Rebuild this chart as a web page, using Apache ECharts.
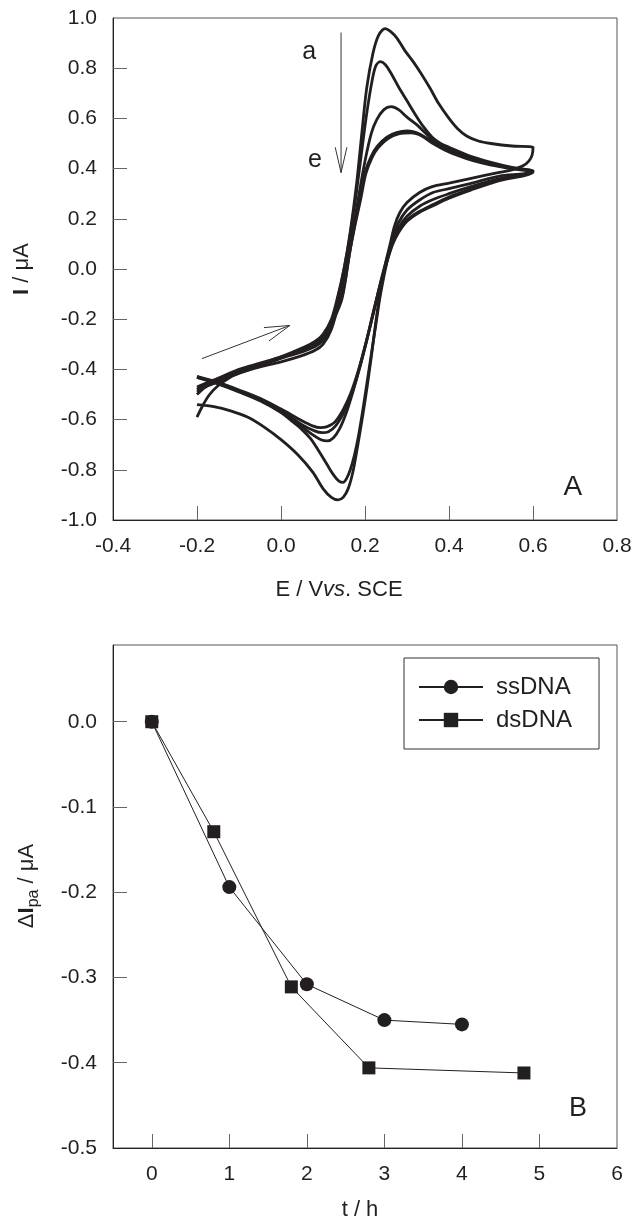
<!DOCTYPE html>
<html>
<head>
<meta charset="utf-8">
<script src="https://cdn.jsdelivr.net/npm/echarts@6/dist/echarts.min.js"></script>
<style>
  html, body { margin: 0; padding: 0; background: #fff; }
  #chart { width: 635px; height: 1221px; }
</style>
</head>
<body>
<div id="chart"></div>
<script>
// Panel A: cyclic voltammograms a–e, each [E (V vs SCE), I (µA)], forward scan then reverse
const cvA = [
  [-0.2,-0.59],[-0.185,-0.54],[-0.17,-0.5],[-0.15,-0.465],[-0.12,-0.43],[-0.1,-0.415],[-0.05,-0.385],
  [0.0,-0.355],[0.05,-0.32],[0.08,-0.295],[0.1,-0.27],[0.12,-0.215],[0.135,-0.12],[0.15,0.0],
  [0.165,0.15],[0.18,0.34],[0.193,0.55],[0.204,0.72],[0.219,0.86],[0.232,0.93],[0.248,0.958],
  [0.262,0.945],[0.276,0.92],[0.295,0.87],[0.315,0.825],[0.335,0.775],[0.355,0.72],[0.375,0.66],
  [0.4,0.6],[0.42,0.56],[0.442,0.53],[0.47,0.51],[0.5,0.5],[0.55,0.49],[0.6,0.485],
  [0.598,0.455],[0.59,0.43],[0.575,0.41],[0.55,0.395],[0.52,0.385],[0.45,0.36],[0.4,0.342],
  [0.36,0.328],[0.33,0.305],[0.3,0.265],[0.283,0.225],[0.27,0.17],[0.26,0.1],[0.25,0.03],
  [0.242,-0.04],[0.235,-0.1],[0.225,-0.22],[0.215,-0.35],[0.205,-0.47],[0.195,-0.58],[0.183,-0.7],
  [0.171,-0.81],[0.16,-0.875],[0.148,-0.91],[0.136,-0.92],[0.12,-0.91],[0.1,-0.875],[0.076,-0.81],
  [0.04,-0.74],[0.0,-0.68],[-0.04,-0.63],[-0.08,-0.59],[-0.12,-0.565],[-0.16,-0.548],[-0.2,-0.54]
];
const cvB = [
  [-0.2,-0.5],[-0.18,-0.47],[-0.15,-0.445],[-0.1,-0.41],[-0.05,-0.38],[0.0,-0.35],[0.05,-0.315],
  [0.08,-0.29],[0.1,-0.26],[0.12,-0.2],[0.135,-0.11],[0.15,0.0],[0.165,0.14],[0.18,0.31],
  [0.193,0.48],[0.205,0.63],[0.218,0.76],[0.226,0.81],[0.236,0.826],[0.248,0.815],[0.262,0.78],
  [0.28,0.725],[0.3,0.67],[0.32,0.615],[0.34,0.565],[0.36,0.525],[0.38,0.5],[0.4,0.485],
  [0.45,0.45],[0.5,0.425],[0.55,0.405],[0.6,0.39],
  [0.58,0.38],[0.52,0.37],[0.45,0.34],[0.4,0.32],[0.362,0.305],[0.33,0.275],[0.3,0.235],
  [0.28,0.185],[0.265,0.12],[0.255,0.05],[0.245,-0.03],[0.236,-0.11],[0.226,-0.22],[0.215,-0.34],
  [0.205,-0.45],[0.195,-0.56],[0.185,-0.66],[0.175,-0.74],[0.165,-0.8],[0.156,-0.835],[0.148,-0.85],
  [0.138,-0.845],[0.125,-0.82],[0.11,-0.78],[0.09,-0.725],[0.07,-0.675],[0.05,-0.64],[0.025,-0.605],
  [0.0,-0.572],[-0.05,-0.525],[-0.1,-0.49],[-0.15,-0.458],[-0.2,-0.432]
];
const cvC = [
  [-0.2,-0.49],[-0.18,-0.47],[-0.15,-0.45],[-0.1,-0.415],[-0.05,-0.39],[0.0,-0.37],[0.05,-0.345],
  [0.08,-0.325],[0.1,-0.3],[0.12,-0.24],[0.14,-0.12],[0.155,0.0],[0.17,0.14],[0.185,0.29],
  [0.2,0.43],[0.215,0.54],[0.228,0.595],[0.245,0.635],[0.262,0.647],[0.28,0.635],[0.3,0.605],
  [0.323,0.575],[0.345,0.54],[0.365,0.51],[0.4,0.478],[0.45,0.446],[0.5,0.42],[0.55,0.402],[0.6,0.39],
  [0.58,0.378],[0.52,0.36],[0.45,0.327],[0.4,0.3],[0.362,0.277],[0.33,0.25],[0.3,0.21],
  [0.28,0.165],[0.265,0.11],[0.25,0.03],[0.236,-0.06],[0.222,-0.16],[0.205,-0.28],[0.188,-0.39],
  [0.171,-0.49],[0.155,-0.575],[0.14,-0.635],[0.125,-0.672],[0.11,-0.685],[0.095,-0.68],[0.075,-0.66],
  [0.05,-0.628],[0.0,-0.568],[-0.05,-0.522],[-0.1,-0.488],[-0.15,-0.456],[-0.2,-0.432]
];
const cvD = [
  [-0.2,-0.48],[-0.18,-0.46],[-0.15,-0.44],[-0.1,-0.405],[-0.05,-0.38],[0.0,-0.355],[0.05,-0.33],
  [0.08,-0.31],[0.1,-0.285],[0.12,-0.22],[0.145,-0.12],[0.164,0.07],[0.176,0.18],[0.188,0.28],
  [0.2,0.385],[0.215,0.45],[0.23,0.49],[0.252,0.525],[0.275,0.543],[0.3,0.55],[0.33,0.538],
  [0.362,0.505],[0.4,0.47],[0.442,0.445],[0.48,0.425],[0.52,0.412],[0.56,0.4],[0.6,0.388],
  [0.58,0.375],[0.52,0.355],[0.45,0.317],[0.4,0.287],[0.362,0.257],[0.33,0.23],[0.3,0.195],
  [0.28,0.15],[0.265,0.1],[0.25,0.02],[0.235,-0.07],[0.22,-0.17],[0.203,-0.29],[0.185,-0.405],
  [0.168,-0.5],[0.15,-0.57],[0.13,-0.625],[0.113,-0.648],[0.098,-0.652],[0.08,-0.645],[0.05,-0.62],
  [0.0,-0.565],[-0.05,-0.52],[-0.1,-0.486],[-0.15,-0.455],[-0.2,-0.43]
];
const cvE = [
  [-0.2,-0.47],[-0.18,-0.455],[-0.15,-0.435],[-0.1,-0.4],[-0.05,-0.375],[0.0,-0.35],[0.05,-0.325],
  [0.08,-0.305],[0.1,-0.28],[0.12,-0.215],[0.145,-0.11],[0.164,0.07],[0.177,0.18],[0.19,0.28],
  [0.202,0.38],[0.217,0.445],[0.232,0.485],[0.255,0.52],[0.28,0.538],[0.31,0.542],[0.335,0.53],
  [0.362,0.5],[0.4,0.466],[0.442,0.44],[0.48,0.422],[0.52,0.408],[0.56,0.397],[0.6,0.385],
  [0.58,0.372],[0.52,0.352],[0.45,0.313],[0.4,0.282],[0.362,0.252],[0.33,0.226],[0.3,0.19],
  [0.28,0.145],[0.265,0.095],[0.25,0.015],[0.235,-0.075],[0.22,-0.175],[0.202,-0.295],[0.184,-0.405],
  [0.166,-0.495],[0.148,-0.56],[0.128,-0.61],[0.11,-0.628],[0.093,-0.632],[0.075,-0.625],[0.05,-0.605],
  [0.0,-0.558],[-0.05,-0.515],[-0.1,-0.482],[-0.15,-0.452],[-0.2,-0.428]
];
const cvCurves = [cvA, cvB, cvC, cvD, cvE];

// Panel B: change of anodic peak current vs time
const tSs = [0, 1, 2, 3, 4];
const ssDNA = [0, -0.194, -0.308, -0.350, -0.355];
const tDs = [0, 0.8, 1.8, 2.8, 4.8];
const dsDNA = [0, -0.129, -0.311, -0.406, -0.412];

// Tick / label values
const xTicksA = [-0.2, 0, 0.2, 0.4, 0.6];
const xLabelsA = [-0.4, -0.2, 0, 0.2, 0.4, 0.6, 0.8];
const yTicksA = [-0.8, -0.6, -0.4, -0.2, 0, 0.2, 0.4, 0.6, 0.8];
const yLabelsA = [-1, -0.8, -0.6, -0.4, -0.2, 0, 0.2, 0.4, 0.6, 0.8, 1];
const xTicksB = [0, 1, 2, 3, 4, 5];
const xLabelsB = [0, 1, 2, 3, 4, 5, 6];
const yTicksB = [-0.4, -0.3, -0.2, -0.1, 0];
const yLabelsB = [-0.5, -0.4, -0.3, -0.2, -0.1, 0];

// Annotations in data coordinates
const arrowDown = [[0.143, 0.942], [0.143, 0.384]];
const arrowScan = [[-0.188, -0.357], [0.021, -0.225]];
const curveTags = [['a', 0.067, 0.866], ['e', 0.081, 0.432]];

const FONT = '"Liberation Sans", Arial, Helvetica, sans-serif';
const INK = '#231f20';

const chart = echarts.init(document.getElementById('chart'));

function xAxisOf(grid, min, max, ticks, labels, fmt) {
  return {
    type: 'value', gridIndex: grid, min, max,
    axisLine: { show: true, onZero: false, lineStyle: { color: '#222', width: 1 } },
    axisTick: { show: true, inside: true, length: 14, customValues: ticks, lineStyle: { color: '#666' } },
    axisLabel: { customValues: labels, formatter: fmt, margin: 16, fontSize: 21, color: INK, fontFamily: FONT },
    splitLine: { show: false }
  };
}
function yAxisOf(grid, min, max, ticks, labels, fmt) {
  return {
    type: 'value', gridIndex: grid, min, max,
    axisLine: { show: true, onZero: false, lineStyle: { color: '#222', width: 1 } },
    axisTick: { show: true, inside: true, length: 14, customValues: ticks, lineStyle: { color: '#666' } },
    axisLabel: { customValues: labels, formatter: fmt, margin: 16, fontSize: 21, color: INK, fontFamily: FONT },
    splitLine: { show: false }
  };
}
const f1 = (v) => v.toFixed(1);

const cvSeries = cvCurves.map((d, i) => ({
  type: 'line', name: 'cv' + i, xAxisIndex: 0, yAxisIndex: 0,
  data: d, showSymbol: false, smooth: 0.3,
  lineStyle: { color: INK, width: 2.8 }
}));

chart.setOption({
  animation: false,
  grid: [
    { left: 113, top: 18, width: 504, height: 502, show: true, borderColor: '#555', borderWidth: 1 },
    { left: 113, top: 645, width: 504, height: 503, show: true, borderColor: '#555', borderWidth: 1 }
  ],
  xAxis: [
    xAxisOf(0, -0.4, 0.8, xTicksA, xLabelsA, f1),
    xAxisOf(1, -0.5, 6, xTicksB, xLabelsB, (v) => String(v))
  ],
  yAxis: [
    yAxisOf(0, -1, 1, yTicksA, yLabelsA, f1),
    yAxisOf(1, -0.5, 0.09, yTicksB, yLabelsB, f1)
  ],
  legend: {
    data: ['ssDNA', 'dsDNA'], orient: 'vertical', left: 404, top: 658,
    borderColor: '#333', borderWidth: 1, padding: [17, 27, 17, 14],
    itemWidth: 64, itemHeight: 18, itemGap: 9,
    textStyle: { fontSize: 24, color: INK, fontFamily: FONT, padding: [0, 0, 0, 8] }
  },
  series: [
    ...cvSeries,
    {
      type: 'line', name: 'dsDNA', xAxisIndex: 1, yAxisIndex: 1, z: 2,
      data: tDs.map((t, i) => [t, dsDNA[i]]),
      symbol: 'rect', symbolSize: 13,
      lineStyle: { color: INK, width: 1 }, itemStyle: { color: INK }
    },
    {
      type: 'line', name: 'ssDNA', xAxisIndex: 1, yAxisIndex: 1, z: 3,
      data: tSs.map((t, i) => [t, ssDNA[i]]),
      symbol: 'circle', symbolSize: 14,
      lineStyle: { color: INK, width: 1 }, itemStyle: { color: INK }
    }
  ]
});

// ── Annotations: arrows, curve tags, panel letters, axis titles ──
const px = (g, p) => chart.convertToPixel({ gridIndex: g }, p);

function arrow(g, from, to, len, deg) {
  const a = px(g, from), b = px(g, to);
  const dx = a[0] - b[0], dy = a[1] - b[1], d = Math.hypot(dx, dy);
  const ux = dx / d, uy = dy / d, r = deg * Math.PI / 180;
  const arm = (s) => [b[0] + len * (ux * Math.cos(s * r) - uy * Math.sin(s * r)),
                      b[1] + len * (ux * Math.sin(s * r) + uy * Math.cos(s * r))];
  const st = { stroke: '#333', lineWidth: 1, fill: null };
  return [
    { type: 'line', shape: { x1: a[0], y1: a[1], x2: b[0], y2: b[1] }, style: st },
    { type: 'polyline', shape: { points: [arm(1), b, arm(-1)] }, style: st }
  ];
}

function label(x, y, text, size, extra) {
  return Object.assign({
    type: 'text', x, y,
    style: { text, fontSize: size, fontFamily: FONT, fill: INK, align: 'center', verticalAlign: 'middle' }
  }, extra || {});
}

const tags = curveTags.map(([t, e, i]) => { const p = px(0, [e, i]); return label(p[0], p[1], t, 25); });
const pA = px(0, [0.695, -0.871]);
const pB = px(1, [5.497, -0.454]);

chart.setOption({
  graphic: [
    ...arrow(0, arrowDown[0], arrowDown[1], 26, 13),
    ...arrow(0, arrowScan[0], arrowScan[1], 26, 16),
    ...tags,
    label(pA[0], pA[1], 'A', 28),
    label(pB[0], pB[1], 'B', 27),
    {
      type: 'text', x: 22, y: 269, rotation: Math.PI / 2,
      style: {
        text: '{b|I}{n| / μA}', align: 'center', verticalAlign: 'middle', fill: INK,
        rich: { b: { fontSize: 22, fontFamily: FONT, fontWeight: 'bold' }, n: { fontSize: 22, fontFamily: FONT } }
      }
    },
    {
      type: 'text', x: 339, y: 590,
      style: {
        text: '{n|E / V}{i|vs}{n|. SCE}', align: 'center', verticalAlign: 'middle', fill: INK,
        rich: { n: { fontSize: 22, fontFamily: FONT }, i: { fontSize: 22, fontFamily: FONT, fontStyle: 'italic' } }
      }
    },
    {
      type: 'text', x: 27, y: 886, rotation: Math.PI / 2,
      style: {
        text: '{n|Δ}{b|I}{s|pa}{n| / μA}', align: 'center', verticalAlign: 'middle', fill: INK,
        rich: {
          n: { fontSize: 22, fontFamily: FONT, lineHeight: 30 },
          b: { fontSize: 22, fontFamily: FONT, fontWeight: 'bold', lineHeight: 30 },
          s: { fontSize: 16, fontFamily: FONT, lineHeight: 30, verticalAlign: 'bottom' }
        }
      }
    },
    label(360, 1210, 't / h', 22)
  ]
});
</script>
</body>
</html>
